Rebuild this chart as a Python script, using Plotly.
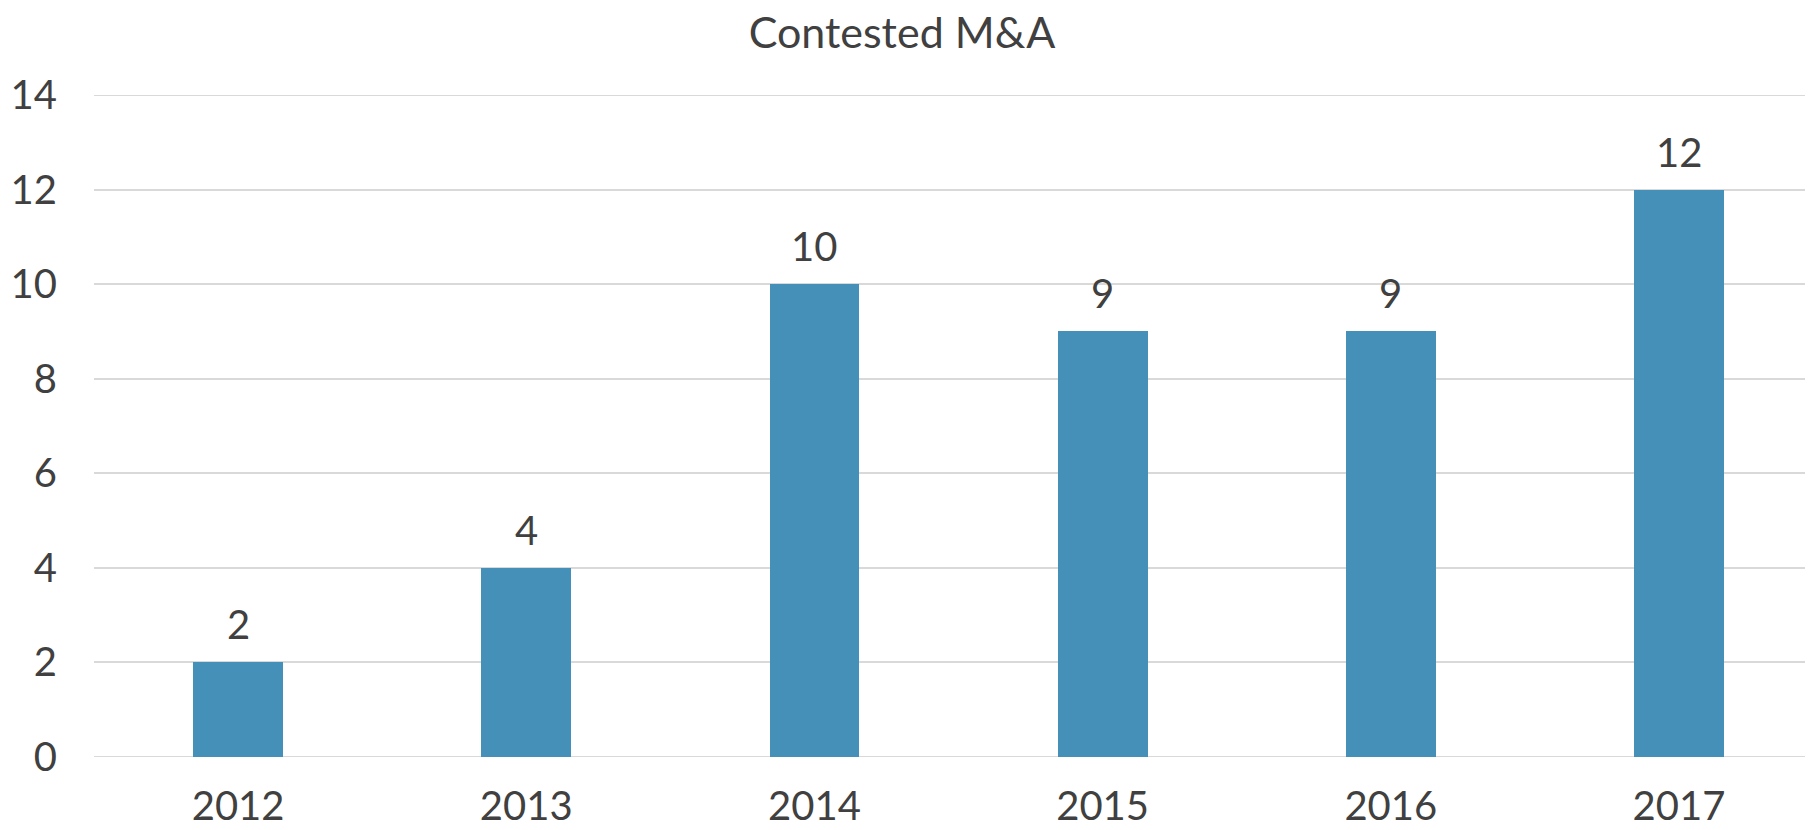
import plotly.graph_objects as go

years = ["2012", "2013", "2014", "2015", "2016", "2017"]
counts = [2, 4, 10, 9, 9, 12]
y_ticks = [0, 2, 4, 6, 8, 10, 12, 14]
title_text = "Contested M&A"

BAR = "#4590B9"
TXT = "#404040"
GRID = "#D9D9D9"
FONT = "Lato"

fig = go.Figure()
fig.add_trace(go.Bar(
    x=years, y=counts, width=0.312,
    marker=dict(color=BAR, line=dict(width=0)),
    hoverinfo="x+y",
))

for i, v in enumerate(counts):
    fig.add_annotation(
        x=i, y=v, text=str(v), showarrow=False,
        yanchor="bottom", yshift=12,
        font=dict(family=FONT, size=40, color=TXT),
    )

# edge gridlines (plotly omits grid lines on the range edges)
for t in (y_ticks[0], y_ticks[-1]):
    fig.add_shape(type="line", xref="paper", yref="y", x0=0, x1=1, y0=t, y1=t,
                  line=dict(color=GRID, width=2), layer="below")

fig.update_layout(
    width=1805, height=822,
    margin=dict(l=86, r=0, t=87, b=73),
    paper_bgcolor="white", plot_bgcolor="white",
    showlegend=False,
    bargap=0,
    title=dict(
        text=title_text, x=894 / 1805, xanchor="center",
        yref="container", y=1 - 25 / 822, yanchor="middle",
        font=dict(family=FONT, size=43, color=TXT),
    ),
    font=dict(family=FONT, size=40, color=TXT),
)
fig.update_xaxes(
    type="category", range=[-0.5, 5.465],
    showgrid=False, showline=False, zeroline=False,
    ticks="", ticklabelstandoff=22, automargin=False,
    tickfont=dict(family=FONT, size=40, color=TXT),
)
fig.update_yaxes(
    range=[0, 14], tickvals=y_ticks, ticktext=[str(t) for t in y_ticks],
    showgrid=True, gridcolor=GRID, gridwidth=2,
    showline=False, zeroline=False,
    ticks="", ticklabelstandoff=36, automargin=False,
    tickfont=dict(family=FONT, size=40, color=TXT),
)

fig.write_html("out.html")
